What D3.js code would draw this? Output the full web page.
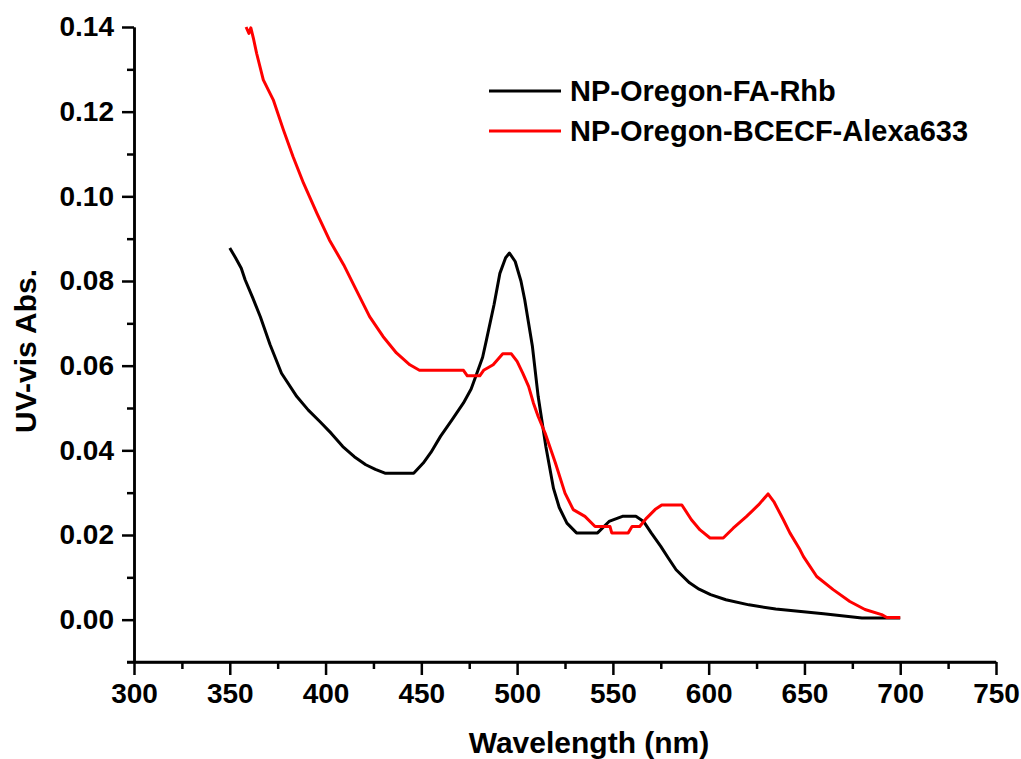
<!DOCTYPE html>
<html>
<head>
<meta charset="utf-8">
<script src="https://cdn.jsdelivr.net/npm/d3@7"></script>
<style>
  html, body { margin: 0; padding: 0; background: #fff; }
  svg { display: block; }
  text { font-family: "Liberation Sans", Arial, sans-serif; font-weight: bold; fill: #000; }
</style>
</head>
<body>
<svg id="chart" width="1021" height="759"></svg>
<script>
// ---- Data ----
const seriesNames = ["NP-Oregon-FA-Rhb", "NP-Oregon-BCECF-Alexa633"];
const seriesColors = ["#000000", "#ff0000"];

const rhbWavelength = [350,353,356,358,362,366,371,377,385,391,397,403,409,415,421,426,431,446,451,455,460,466,472,476,479,482,484,488,491,494,496,499,502,504,506,508,511,515,519,522,526,531,542,548,555,562,566,570,575,579,583,590,595,601,609,621,635,660,680,700];
const rhbAbs = [0.0878,0.0855,0.0830,0.0803,0.0760,0.0715,0.0650,0.0582,0.0527,0.0495,0.0468,0.0440,0.0409,0.0385,0.0366,0.0355,0.0346,0.0346,0.0370,0.0395,0.0433,0.0472,0.0512,0.0545,0.0582,0.0620,0.0661,0.0745,0.0818,0.0855,0.0866,0.0846,0.0800,0.0755,0.0700,0.0645,0.0527,0.0409,0.0310,0.0265,0.0228,0.0205,0.0205,0.0232,0.0244,0.0244,0.0232,0.0205,0.0173,0.0145,0.0118,0.0087,0.0072,0.0059,0.0047,0.0035,0.0025,0.0014,0.0004,0.0004];

const alexaWavelength = [358.5,360,361,362.5,364,367.5,372.7,378,383,388.5,395.5,402,409.5,416,423,430,437,444,449,472,474,480.5,482.5,487.5,492.5,497,500,503,506,508.5,511,514.6,520,525,529.3,535.4,540.7,548.5,549.4,558,560,564,567.6,572,575.5,586,591,595.5,600.7,607.6,612.8,619.8,626,631,634,639,642.4,647.7,649.5,656.4,665,673.7,681.6,690.3,693,700];
const alexaAbs = [0.1400,0.1385,0.1398,0.1370,0.1338,0.1275,0.1228,0.1157,0.1094,0.1031,0.0960,0.0897,0.0838,0.0779,0.0716,0.0669,0.0630,0.0602,0.0589,0.0589,0.0576,0.0576,0.0589,0.0602,0.0628,0.0628,0.0610,0.0582,0.0551,0.0512,0.0480,0.0441,0.0370,0.0299,0.0260,0.0244,0.0220,0.0220,0.0205,0.0205,0.0220,0.0220,0.0240,0.0260,0.0271,0.0271,0.0236,0.0212,0.0193,0.0193,0.0216,0.0244,0.0271,0.0297,0.0279,0.0236,0.0205,0.0165,0.0149,0.0102,0.0071,0.0043,0.0024,0.0012,0.0005,0.0005];

const xTicks = [300,350,400,450,500,550,600,650,700,750];
const xMinorTicks = [325,375,425,475,525,575,625,675,725];
const yTicks = [0.00,0.02,0.04,0.06,0.08,0.10,0.12,0.14];
const yMinorTicks = [-0.01,0.01,0.03,0.05,0.07,0.09,0.11,0.13];
const xTitle = "Wavelength (nm)";
const yTitle = "UV-vis Abs.";

// ---- Layout ----
const svg = d3.select("#chart");
const x = d3.scaleLinear().domain([300, 750]).range([134, 996]);
const y = d3.scaleLinear().domain([-0.01, 0.14]).range([662, 27]);

const axisStroke = 2.5;

// Minor ticks (no labels)
const xMinor = svg.append("g").attr("transform", `translate(0,${y(-0.01)})`)
  .call(d3.axisBottom(x).tickValues(xMinorTicks).tickSize(7).tickSizeOuter(0).tickFormat(""));
const yMinor = svg.append("g").attr("transform", `translate(${x(300)},0)`)
  .call(d3.axisLeft(y).tickValues(yMinorTicks).tickSize(7).tickSizeOuter(0).tickFormat(""));

// Major axes
const xAxis = svg.append("g").attr("transform", `translate(0,${y(-0.01)})`)
  .call(d3.axisBottom(x).tickValues(xTicks).tickSize(13).tickSizeOuter(0).tickPadding(8).tickFormat(d3.format("d")));
const yAxis = svg.append("g").attr("transform", `translate(${x(300)},0)`)
  .call(d3.axisLeft(y).tickValues(yTicks).tickSize(12).tickSizeOuter(0).tickPadding(8).tickFormat(d3.format(".2f")));

[xMinor, yMinor, xAxis, yAxis].forEach(g => {
  g.selectAll("path.domain").attr("stroke", "#000").attr("stroke-width", axisStroke);
  g.selectAll(".tick line").attr("stroke", "#000").attr("stroke-width", axisStroke);
  g.selectAll("text").attr("font-size", 28).attr("font-family", '"Liberation Sans", Arial, sans-serif').attr("font-weight", "bold").attr("fill", "#000");
});
// extend domain so corner closes
xMinor.select("path.domain").attr("d", `M${x(300) - 7},0H${x(750)}`);

// Axis titles
svg.append("text").attr("x", 589).attr("y", 753)
  .attr("text-anchor", "middle").attr("font-size", 30).text(xTitle);
svg.append("text").attr("transform", `translate(36,351) rotate(-90)`)
  .attr("text-anchor", "middle").attr("font-size", 30).text(yTitle);

// Lines
const line = d3.line().x(d => x(d[0])).y(d => y(d[1]));
const rhb = rhbWavelength.map((w, i) => [w, rhbAbs[i]]);
const alexa = alexaWavelength.map((w, i) => [w, alexaAbs[i]]);

svg.append("path").datum(rhb).attr("d", line)
  .attr("fill", "none").attr("stroke", seriesColors[0]).attr("stroke-width", 3).attr("stroke-linejoin", "round");
svg.append("path").datum(alexa).attr("d", line)
  .attr("fill", "none").attr("stroke", seriesColors[1]).attr("stroke-width", 3).attr("stroke-linejoin", "round");

// Legend
const legend = svg.append("g");
seriesNames.forEach((name, i) => {
  const ly = 91 + i * 40;
  legend.append("line").attr("x1", 489).attr("x2", 561).attr("y1", ly).attr("y2", ly)
    .attr("stroke", seriesColors[i]).attr("stroke-width", 3);
  legend.append("text").attr("x", 570).attr("y", ly).attr("dy", "0.36em")
    .attr("font-size", 29).text(name);
});
</script>
</body>
</html>
